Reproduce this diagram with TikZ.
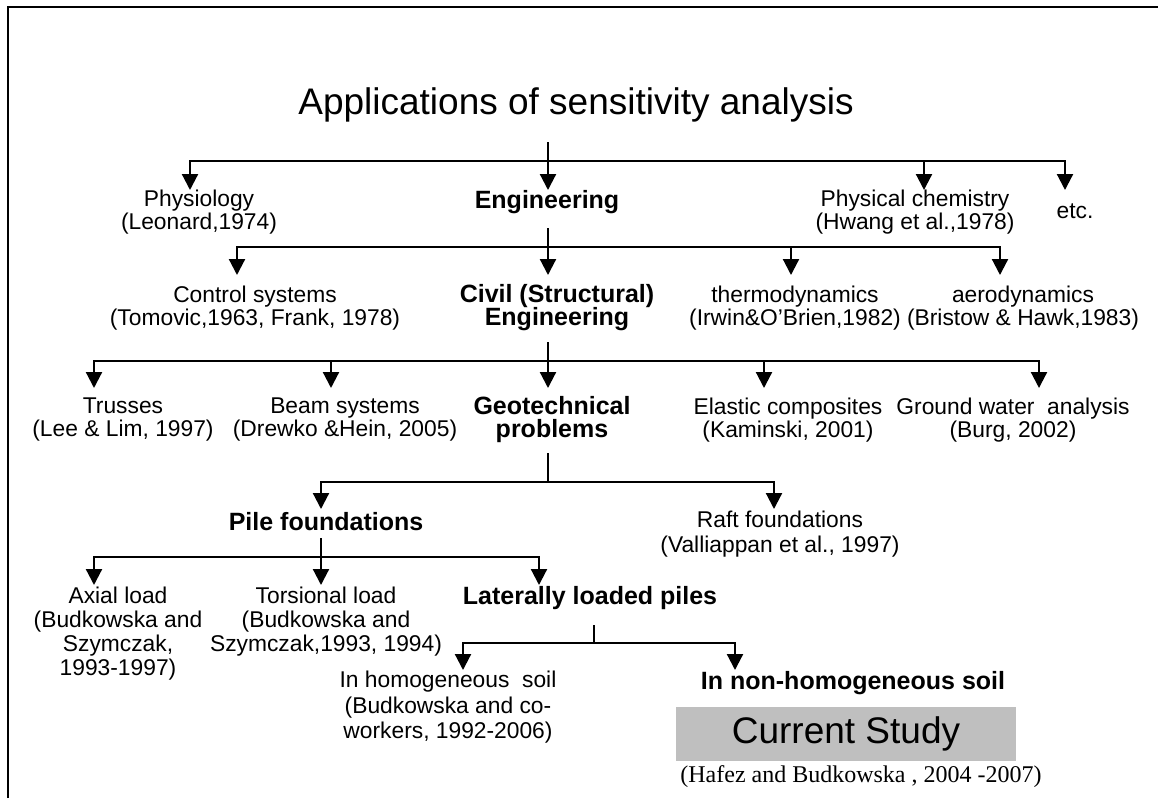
\documentclass[tikz,border=0pt]{standalone}
\usepackage{fontspec}
\setmainfont{Liberation Sans}
\newfontfamily\timesf{Liberation Serif}
\usetikzlibrary{arrows.meta}
\begin{document}
\begin{tikzpicture}[x=1pt,y=-1pt,
  conn/.style={line width=2.2pt},
  arr/.style={line width=2.2pt,-{Triangle[width=16pt,length=16pt]}},
  txt/.style={font=\fontsize{22.8}{22.5}\selectfont, align=center, inner sep=0pt, anchor=north, execute at begin node={\rule{0pt}{17pt}}},
  txtlo/.style={txt, font=\fontsize{22.8}{24.5}\selectfont},
  bld/.style={font=\bfseries\fontsize{25}{23.5}\selectfont, align=center, inner sep=0pt, anchor=north, execute at begin node={\rule{0pt}{19pt}}},
]
\useasboundingbox (0,0) rectangle (1158,798);
\draw[line width=1.5pt] (8,798) -- (8,7) -- (1158,7);

% title
\node[font=\fontsize{37}{40}\selectfont, anchor=base, inner sep=0pt] (title) at (576,114) {Applications of sensitivity analysis};

% level 1
\node[txt] (phys) at (199,190) {Physiology\\(Leonard,1974)};
\node[bld] (eng) at (547,189) {Engineering};
\node[txt] (chem) at (915,190) {Physical chemistry\\(Hwang et al.,1978)};
\node[txt] (etc) at (1075,201) {etc.};

% level 2
\node[txt] (ctrl) at (255,286) {Control systems\\(Tomovic,1963, Frank, 1978)};
\node[bld] (civil) at (557,284) {Civil (Structural)\\Engineering};
\node[txt] (thermo) at (795,286) {thermodynamics\\(Irwin\&O’Brien,1982)};
\node[txt] (aero) at (1023,286) {aerodynamics\\(Bristow \& Hawk,1983)};

% level 3
\node[txt] (trus) at (123,398) {Trusses\\(Lee \& Lim, 1997)};
\node[txt] (beam) at (345,398) {Beam systems\\(Drewko \&Hein, 2005)};
\node[bld] (geo) at (552,396) {Geotechnical\\problems};
\node[txt] (elas) at (788,398) {Elastic composites\\(Kaminski, 2001)};
\node[txt] (grnd) at (1013,398) {Ground water\ \ analysis\\(Burg, 2002)};

% level 4
\node[bld] (pile) at (326,511) {Pile foundations};
\node[txtlo] (raft) at (780,511) {Raft foundations\\(Valliappan et al., 1997)};

% level 5
\node[txt, font=\fontsize{22.8}{24}\selectfont] (axial) at (118,587) {Axial load\\(Budkowska and\\Szymczak,\\1993-1997)};
\node[txt, font=\fontsize{22.8}{24}\selectfont] (tors) at (326,587) {Torsional load\\(Budkowska and\\Szymczak,1993, 1994)};
\node[bld] (lat) at (590,585) {Laterally loaded piles};

% level 6
\node[txt, font=\fontsize{22.8}{25.5}\selectfont] (homo) at (448,671) {In homogeneous\ \ soil\\(Budkowska and co-\\workers, 1992-2006)};
\node[bld] (nonh) at (853,670) {In non-homogeneous soil};
\node[fill=black!25, minimum width=340pt, minimum height=54pt, inner sep=0pt, font=\fontsize{37}{40}\selectfont] (cs) at (846,734) {Current Study};
\node[font=\timesf\fontsize{24}{26}\selectfont, anchor=base, inner sep=0pt] (hafez) at (861,782) {(Hafez and Budkowska , 2004 -2007)};

% connectors level 0 -> 1
\coordinate (s0) at (548,142); \coordinate (j0) at (548,161);
\coordinate (t0a) at (190,190); \coordinate (t0b) at (548,190);
\coordinate (t0c) at (924,190); \coordinate (t0d) at (1065,190);
\draw[conn] (s0) -- (j0);
\draw[arr] (j0) -| (t0a);
\draw[arr] (j0) -- (t0b);
\draw[arr] (j0) -| (t0c);
\draw[arr] (j0) -| (t0d);

% level 1 -> 2
\coordinate (s1) at (548,228); \coordinate (j1) at (548,247);
\coordinate (t1a) at (237,275); \coordinate (t1b) at (548,275);
\coordinate (t1c) at (791,275); \coordinate (t1d) at (1000,275);
\draw[conn] (s1) -- (j1);
\draw[arr] (j1) -| (t1a);
\draw[arr] (j1) -- (t1b);
\draw[arr] (j1) -| (t1c);
\draw[arr] (j1) -| (t1d);

% level 2 -> 3
\coordinate (s2) at (548,342); \coordinate (j2) at (548,361);
\coordinate (t2a) at (94,388); \coordinate (t2b) at (331,388);
\coordinate (t2c) at (548,388); \coordinate (t2d) at (764,388);
\coordinate (t2e) at (1039,388);
\draw[conn] (s2) -- (j2);
\draw[arr] (j2) -| (t2a);
\draw[arr] (j2) -| (t2b);
\draw[arr] (j2) -- (t2c);
\draw[arr] (j2) -| (t2d);
\draw[arr] (j2) -| (t2e);

% level 3 -> 4
\coordinate (s3) at (548,453); \coordinate (j3) at (548,482);
\coordinate (t3a) at (321,509); \coordinate (t3b) at (774,509);
\draw[conn] (s3) -- (j3);
\draw[arr] (j3) -| (t3a);
\draw[arr] (j3) -| (t3b);

% level 4 -> 5
\coordinate (s4) at (321,538); \coordinate (j4) at (321,557);
\coordinate (t4a) at (94,585); \coordinate (t4b) at (321,585);
\coordinate (t4c) at (539,585);
\draw[conn] (s4) -- (j4);
\draw[arr] (j4) -| (t4a);
\draw[arr] (j4) -- (t4b);
\draw[arr] (j4) -| (t4c);

% level 5 -> 6
\coordinate (s5) at (594,625); \coordinate (j5) at (594,643);
\coordinate (t5a) at (463,670); \coordinate (t5b) at (735,670);
\draw[conn] (s5) -- (j5);
\draw[arr] (j5) -| (t5a);
\draw[arr] (j5) -| (t5b);
\end{tikzpicture}
\end{document}
